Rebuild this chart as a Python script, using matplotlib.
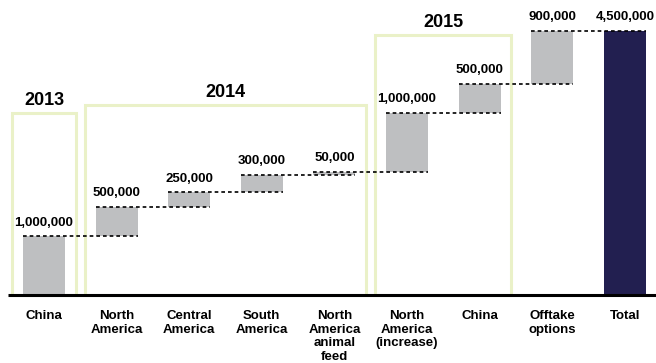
import matplotlib.pyplot as plt
from matplotlib.patches import Rectangle

plt.rcParams['font.family'] = ['Liberation Sans', 'DejaVu Sans']

# Waterfall steps (tonnes) and the closing total
categories = ["China", "North\nAmerica", "Central\nAmerica", "South\nAmerica",
              "North\nAmerica\nanimal\nfeed", "North\nAmerica\n(increase)",
              "China", "Offtake\noptions", "Total"]
increments = [1000000, 500000, 250000, 300000, 50000, 1000000, 500000, 900000]
total = 4500000
value_labels = ["1,000,000", "500,000", "250,000", "300,000", "50,000",
                "1,000,000", "500,000", "900,000", "4,500,000"]

# Year groupings: (label, first bar, last bar, box top)
years = ["2013", "2014", "2015"]
year_first = [0, 1, 5]
year_last = [0, 4, 6]
year_box_top = [3100000, 3240000, 4440000]

bar_gray = "#bebfc1"
total_navy = "#221f50"
box_green = "#eaf1c8"

fig = plt.figure(figsize=(6.56, 3.63), dpi=100)
ax = fig.add_axes([0, 0, 1, 1])
ax.set_xlim(-0.606, 8.43)
ax.set_ylim(-1160000, 5034000)
ax.axis('off')

width = 0.58
bottoms = []
run = 0
for inc in increments:
    bottoms.append(run)
    run += inc

for i, (b, h) in enumerate(zip(bottoms, increments)):
    ax.bar(i, h, bottom=b, width=width, color=bar_gray, zorder=2)
ax.bar(len(increments), total, width=width, color=total_navy, zorder=2)

# dashed connectors: from left edge of bar i to right edge of bar i+1
tops = [b + h for b, h in zip(bottoms, increments)]
for i, t in enumerate(tops):
    ax.plot([i - width / 2, i + 1 + width / 2], [t, t], color="black",
            lw=1.2, linestyle=(0, (2.2, 1.8)), zorder=3)

# value labels
label_tops = tops + [total]
for i, (t, txt) in enumerate(zip(label_tops, value_labels)):
    ax.annotate(txt, (i, t), xytext=(0, 10), textcoords='offset points',
                ha='center', va='center', fontsize=9.5, fontweight='bold')

# year boxes
pad = 0.435
for yr, a, b, top in zip(years, year_first, year_last, year_box_top):
    ax.add_patch(Rectangle((a - pad, 0), (b - a) + 2 * pad, top, fill=False,
                           edgecolor=box_green, lw=2.2, zorder=1))
    ax.annotate(yr, ((a + b) / 2, top), xytext=(0, 9), textcoords='offset points',
                ha='center', va='center', fontsize=13, fontweight='bold')

# baseline
ax.plot([-0.496, 8.43], [0, 0], color="black", lw=2.2, zorder=4,
        solid_capstyle='butt')

# category labels
for i, cat in enumerate(categories):
    ax.annotate(cat, (i, 0), xytext=(0, -11), textcoords='offset points',
                ha='center', va='top', fontsize=9.5, fontweight='bold',
                linespacing=1.17)

fig.savefig("out.png", dpi=100)
